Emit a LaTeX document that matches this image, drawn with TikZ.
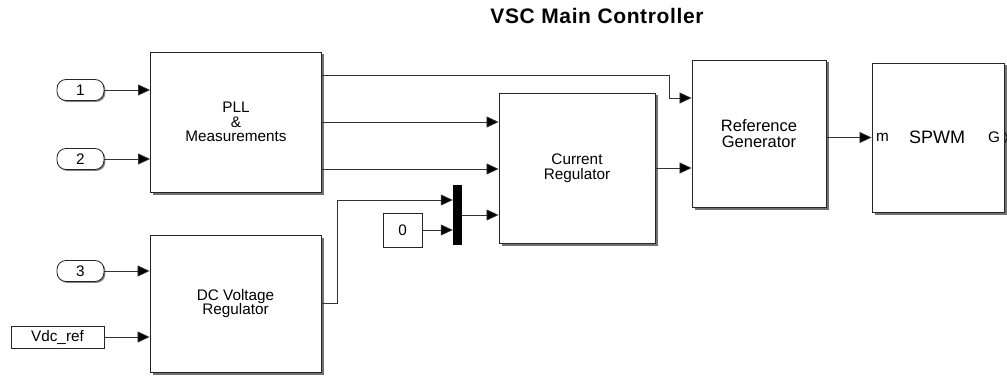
\documentclass[tikz,border=0pt]{standalone}
\usepackage{fontspec}
\setmainfont{Liberation Sans}
\usetikzlibrary{arrows.meta,shadows,calc}
\begin{document}
\begin{tikzpicture}[x=1pt,y=-1pt,
  every node/.style={inner sep=0pt, font=\fontsize{15.3}{14.5}\selectfont},
  blk/.style={draw=black!85, fill=white, line width=0.9pt, align=center,
     drop shadow={shadow xshift=2.5pt, shadow yshift=-2.5pt, fill=black!65, opacity=0.85}},
  smallblk/.style={draw=black!85, fill=white, line width=0.8pt, align=center,
     drop shadow={shadow xshift=1.4pt, shadow yshift=-1.4pt, fill=black!65, opacity=0.75}},
  port/.style={smallblk, rounded corners=9pt, minimum width=47pt, minimum height=21pt},
  wire/.style={draw=black!80, line width=0.7pt},
  arr/.style={wire, -{Triangle[length=12pt,width=11pt,fill=black]}},
]
\useasboundingbox[fill=white] (0,0) rectangle (1007,377);

\node[font=\fontsize{21}{21}\selectfont\bfseries\addfontfeature{LetterSpace=3}] (title) at (597,16) {VSC Main Controller};

\node[port] (in1) at (80.5,90) {1};
\node[port] (in2) at (80.5,159) {2};
\node[port] (in3) at (80.5,271) {3};
\node[smallblk, minimum width=93pt, minimum height=22pt] (vref) at (57.5,337) {Vdc\_ref};

\node[blk, minimum width=171pt, minimum height=140pt] (pll) at (236,122) {PLL\\\&\\Measurements};
\node[blk, minimum width=171pt, minimum height=137pt] (dc) at (235.5,303.5) {DC Voltage\\Regulator};
\node[smallblk, minimum width=39pt, minimum height=34pt] (c0) at (402.5,230) {0};
\node[fill=black, minimum width=9pt, minimum height=60pt] (mux) at (457.5,215) {};
\node[blk, minimum width=156pt, minimum height=150pt] (cr) at (577,168) {Current\\Regulator};
\node[blk, minimum width=134pt, minimum height=147pt, font=\fontsize{16.5}{16}\selectfont] (rg) at (759,133.5) {Reference\\Generator};
\node[blk, minimum width=132pt, minimum height=149pt] (sp) at (938,137.5) {};
\node (m) at (882.5,137) {m};
\node[font=\fontsize{18}{18}\selectfont] (spt) at (937,137) {SPWM};
\node (g) at (994,137) {G};

\coordinate (p1) at ($(pll.north east)!1/6!(pll.south east)$);
\coordinate (p3) at ($(pll.north east)!5/6!(pll.south east)$);

\draw[arr] (in1.east) -- (pll.west |- in1.east);
\draw[arr] (in2.east) -- (pll.west |- in2.east);
\draw[arr] (in3.east) -- (dc.west |- in3.east);
\draw[arr] (vref.east) -- (dc.west |- vref.east);

\draw[arr] (p1) -- ++(347,0) |- (rg.west |- 0,98);
\draw[arr] (pll.east) -- (cr.west |- pll.east);
\draw[arr] (p3) -- (cr.west |- p3);

\draw[arr] (dc.east) -- ++(16,0) |- (mux.west |- 0,200);
\draw[arr] (c0.east) -- (mux.west |- c0.east);
\draw[arr] (mux.east) -- (cr.west |- mux.east);

\draw[arr] (cr.east) -- (rg.west |- cr.east);
\draw[arr] (rg.east |- sp.west) -- (sp.west);

\draw[line width=0.8pt] ($(sp.east)+(0.5,-5)$) -- ($(sp.east)+(3,0)$) -- ($(sp.east)+(0.5,5)$);
\end{tikzpicture}
\end{document}
